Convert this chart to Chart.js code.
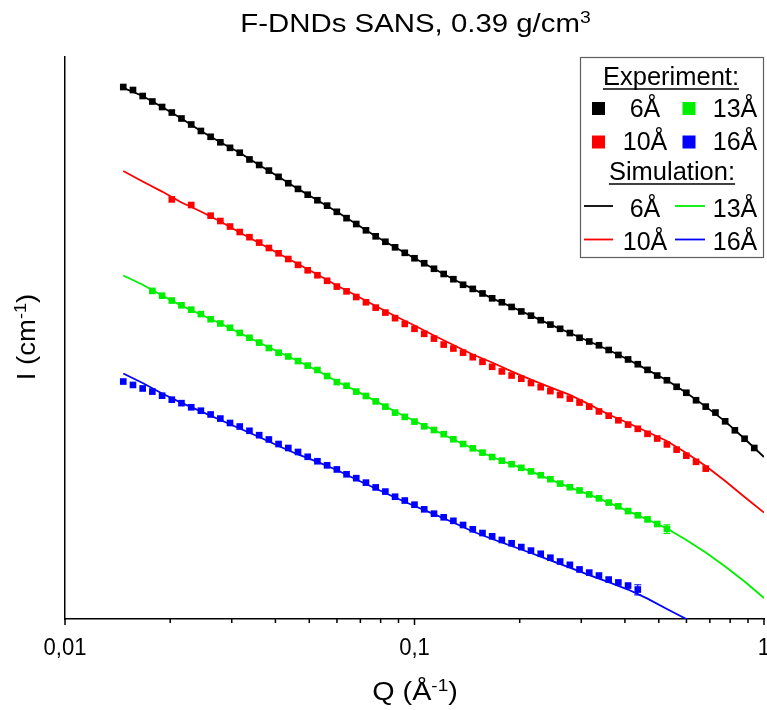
<!DOCTYPE html>
<html>
<head>
<meta charset="utf-8">
<script src="https://cdn.jsdelivr.net/npm/chart.js@4/dist/chart.umd.min.js"></script>
<style>
  html, body { margin: 0; padding: 0; background: #fff; }
  #wrap { width: 767px; height: 710px; position: relative; }
</style>
</head>
<body>
<div id="wrap"><canvas id="sans"></canvas></div>
<script>
// measured Q points (1/Å)
const qExp = [
  0.01468, 0.01565, 0.01668, 0.01778, 0.01896, 0.02021, 0.02154, 0.02297, 0.02448, 0.02610,
  0.02783, 0.02966, 0.03162, 0.03371, 0.03594, 0.03831, 0.04084, 0.04354, 0.04642, 0.04948,
  0.05275, 0.05623, 0.05995, 0.06391, 0.06813, 0.07263, 0.07743, 0.08254, 0.08799, 0.09380,
  0.1000, 0.1066, 0.1137, 0.1212, 0.1292, 0.1377, 0.1468, 0.1565, 0.1668, 0.1778,
  0.1896, 0.2021, 0.2154, 0.2297, 0.2448, 0.2610, 0.2783, 0.2966, 0.3162, 0.3371,
  0.3594, 0.3831, 0.4084, 0.4354, 0.4642, 0.4948, 0.5275, 0.5623, 0.5995, 0.6391,
  0.6813, 0.7263, 0.7743, 0.8254, 0.8799, 0.9380
];

// measured intensity, one value per qExp entry (null = no point)
const exp6 = [
  208.9, 195.0, 169.8, 149.6, 131.8, 116.1, 101.2, 88.1, 75.9, 66.4,
  58.5, 51.5, 46.0, 39.4, 34.7, 30.5, 26.4, 22.8, 20.0, 17.5,
  15.4, 13.6, 11.8, 10.2, 8.91, 7.71, 6.71, 5.92, 5.21, 4.59,
  4.05, 3.61, 3.18, 2.82, 2.50, 2.20, 2.00, 1.80, 1.61, 1.47,
  1.32, 1.19, 1.08, 0.973, 0.879, 0.798, 0.724, 0.649, 0.596, 0.546,
  0.490, 0.437, 0.394, 0.353, 0.31, 0.272, 0.244, 0.210, 0.183, 0.154,
  0.133, 0.116, 0.0948, 0.0771, 0.0635, 0.0513
];
const exp10 = [
  null, null, null, null, null, 15.7, null, 13.8, null, 10.8,
  9.55, 8.41, 7.41, 6.58, 5.81, 5.13, 4.54, 3.98, 3.48, 3.07,
  2.74, 2.41, 2.11, 1.89, 1.66, 1.47, 1.30, 1.16, 1.02, 0.893,
  0.798, 0.711, 0.637, 0.555, 0.507, 0.461, 0.415, 0.373, 0.333, 0.299,
  0.272, 0.253, 0.229, 0.208, 0.190, 0.174, 0.160, 0.146, 0.133, 0.119,
  0.108, 0.0971, 0.0879, 0.0798, 0.0711, 0.0638, 0.0557, 0.0494, 0.0430, 0.0373,
  0.0319, null, null, null, null, null
];
const exp13 = [
  null, null, null, 1.91, 1.71, 1.53, 1.37, 1.24, 1.12, 0.995,
  0.902, 0.817, 0.726, 0.649, 0.581, 0.513, 0.461, 0.422, 0.380, 0.342,
  0.309, 0.269, 0.234, 0.215, 0.188, 0.170, 0.150, 0.133, 0.116, 0.105,
  0.0942, 0.0845, 0.0776, 0.0705, 0.0627, 0.0562, 0.0509, 0.0461, 0.0417, 0.0383,
  0.0353, 0.0325, 0.0299, 0.0274, 0.0250, 0.0226, 0.0208, 0.0193, 0.0176, 0.0161,
  0.0146, 0.0134, 0.0120, 0.0109, 0.00991, 0.00891, 0.00796, null, null, null,
  null, null, null, null, null, null
];
const exp16 = [
  0.237, 0.219, 0.202, 0.188, 0.171, 0.156, 0.144, 0.131, 0.121, 0.111,
  0.101, 0.0912, 0.0841, 0.0762, 0.0689, 0.0624, 0.0562, 0.0513, 0.0468, 0.0419,
  0.0378, 0.0344, 0.0313, 0.0280, 0.0256, 0.0231, 0.0207, 0.0188, 0.0167, 0.0153,
  0.0139, 0.0125, 0.0113, 0.0104, 0.00959, 0.00871, 0.00789, 0.00724, 0.00671, 0.00617,
  0.00572, 0.00524, 0.00483, 0.00449, 0.00410, 0.00376, 0.00348, 0.00313, 0.00291, 0.00272,
  0.00248, 0.00232, 0.00216, 0.00197, null, null, null, null, null, null,
  null, null, null, null, null, null
];

// error of the last measured point (13Å, 16Å)
const err13Last = 0.0008;
const err16Last = 0.00023;

// simulated curves
const qSim = [
  0.01468, 0.01668, 0.01896, 0.02154, 0.02448, 0.02783, 0.03162, 0.03594, 0.04084, 0.04642,
  0.05275, 0.05995, 0.06813, 0.07743, 0.08799, 0.1000, 0.1137, 0.1292, 0.1468, 0.1668,
  0.1896, 0.2154, 0.2448, 0.2783, 0.3162, 0.3594, 0.4084, 0.4642, 0.5275, 0.5995,
  0.6813, 0.7743, 0.8799, 1.000
];
const sim6 = [
  205, 170, 132, 101, 76.0, 58.5, 46.0, 34.7, 26.4, 20.0,
  15.4, 11.8, 8.91, 6.71, 5.21, 4.05, 3.18, 2.50, 2.00, 1.61,
  1.32, 1.08, 0.879, 0.724, 0.596, 0.490, 0.394, 0.31, 0.244, 0.183,
  0.133, 0.0948, 0.0635, 0.0417
];
const sim10 = [
  30.2, 23.7, 18.8, 14.6, 11.9, 9.44, 7.33, 5.75, 4.52, 3.55,
  2.79, 2.16, 1.72, 1.35, 1.07, 0.861, 0.684, 0.550, 0.442, 0.367,
  0.299, 0.248, 0.207, 0.174, 0.140, 0.111, 0.0912, 0.0741, 0.0603, 0.0457,
  0.0339, 0.0240, 0.0166, 0.0116
];
const sim13 = [
  2.72, 2.20, 1.72, 1.36, 1.11, 0.902, 0.724, 0.582, 0.468, 0.380,
  0.305, 0.237, 0.191, 0.151, 0.119, 0.0955, 0.0776, 0.0624, 0.0507, 0.0417,
  0.0351, 0.0299, 0.0248, 0.0207, 0.0175, 0.0146, 0.0120, 0.00989, 0.00804, 0.00617,
  0.00462, 0.00335, 0.00237, 0.00162
];
const sim16 = [
  0.285, 0.229, 0.180, 0.145, 0.119, 0.0977, 0.0804, 0.0661, 0.0537, 0.0442,
  0.0372, 0.0309, 0.0248, 0.0202, 0.0164, 0.0135, 0.0112, 0.00923, 0.00750, 0.00631,
  0.00537, 0.00457, 0.00385, 0.00327, 0.00275, 0.00234, 0.00197, 0.00160, 0.00126, 0.00100,
  0.000776, 0.000603, 0.000457, 0.000347
];

const sizeLabels = ["6Å", "10Å", "13Å", "16Å"];
const colors = ["#000000", "#ff0000", "#00ee00", "#0000ff"];

// axes
const xTickValues = [0.01, 0.1, 1];
const xTickLabels = ["0,01", "0,1", "1"];
const yMin = 0.001;
const yMax = 416.9;

const FONT = '"Liberation Sans", Arial, sans-serif';

//pair Q with intensity, skipping empty cells
const toPoints = (qs, vals) =>
  qs.map((q, i) => (vals[i] == null ? null : { x: q, y: vals[i] })).filter(p => p);

const expSet = (vals, color) => ({
  data: toPoints(qExp, vals),
  showLine: false,
  pointStyle: "rect",
  pointRadius: 4.7,
  pointHoverRadius: 4.7,
  pointBorderWidth: 0,
  pointBackgroundColor: color,
  borderColor: color
});

const simSet = (vals, color) => ({
  data: toPoints(qSim, vals),
  showLine: true,
  pointRadius: 0,
  pointHoverRadius: 0,
  borderColor: color,
  borderWidth: 1.8,
  tension: 0
});

//text with optional superscript pieces, stretched horizontally by sx
function richText(ctx, parts, size, sx, align) {
  const supSize = size * 0.66;
  const widths = parts.map(([t, sup]) => {
    ctx.font = `${sup ? supSize : size}px ${FONT}`;
    return ctx.measureText(t).width;
  });
  const total = widths.reduce((a, b) => a + b, 0);
  ctx.save();
  ctx.scale(sx, 1);
  ctx.textAlign = "left";
  ctx.textBaseline = "alphabetic";
  let cx = align === "center" ? -total / 2 : 0;
  parts.forEach(([t, sup], i) => {
    ctx.font = `${sup ? supSize : size}px ${FONT}`;
    ctx.fillText(t, cx, sup ? -size * 0.36 : 0);
    cx += widths[i];
  });
  ctx.restore();
}

//ticks, titles, legend box and error bars
const decor = {
  id: "decor",
  afterDatasetsDraw(chart) {
    const { ctx, scales: { x, y } } = chart;
    const lastErr = [[exp13, err13Last, colors[2]], [exp16, err16Last, colors[3]]];
    ctx.save();
    lastErr.forEach(([vals, err, color]) => {
      let i = vals.length - 1;
      while (vals[i] == null) i--;
      const px = x.getPixelForValue(qExp[i]);
      const top = y.getPixelForValue(vals[i] + err);
      const bot = y.getPixelForValue(vals[i] - err);
      ctx.strokeStyle = color;
      ctx.lineWidth = 1.2;
      ctx.beginPath();
      ctx.moveTo(px, top); ctx.lineTo(px, bot);
      ctx.moveTo(px - 3.5, top); ctx.lineTo(px + 3.5, top);
      ctx.moveTo(px - 3.5, bot); ctx.lineTo(px + 3.5, bot);
      ctx.stroke();
    });
    ctx.restore();
  },
  afterDraw(chart) {
    const { ctx, chartArea, scales: { x } } = chart;
    const base = chartArea.bottom;
    ctx.save();
    ctx.fillStyle = "#000";
    ctx.strokeStyle = "#000";

    // major and minor ticks on the log axis
    ctx.lineWidth = 1.5;
    ctx.beginPath();
    xTickValues.forEach((dec, d) => {
      const px = x.getPixelForValue(dec);
      ctx.moveTo(px, base); ctx.lineTo(px, base + 6);
      if (d < xTickValues.length - 1) {
        for (let m = 2; m <= 9; m++) {
          const mx = x.getPixelForValue(dec * m);
          ctx.moveTo(mx, base); ctx.lineTo(mx, base + 4);
        }
      }
    });
    ctx.stroke();

    xTickValues.forEach((v, i) => {
      ctx.save();
      ctx.translate(x.getPixelForValue(v), 655);
      richText(ctx, [[xTickLabels[i], false]], 23, 0.96, "center");
      ctx.restore();
    });

    // titles
    ctx.save();
    ctx.translate(415.5, 32);
    richText(ctx, [["F-DNDs SANS, 0.39 g/cm", false], ["3", true]], 26, 1.13, "center");
    ctx.restore();

    ctx.save();
    ctx.translate(415, 700);
    richText(ctx, [["Q (Å", false], ["-1", true], [")", false]], 25, 1.15, "center");
    ctx.restore();

    ctx.save();
    ctx.translate(35, 337);
    ctx.rotate(-Math.PI / 2);
    richText(ctx, [["I (cm", false], ["-1", true], [")", false]], 25, 1.1, "center");
    ctx.restore();

    // legend box
    ctx.strokeStyle = "#5e5e5e";
    ctx.lineWidth = 1.2;
    ctx.strokeRect(580.5, 57.5, 183, 200);

    const heading = (text, cx, baseY) => {
      ctx.save();
      ctx.translate(cx, baseY);
      richText(ctx, [[text, false]], 25, 1.02, "center");
      ctx.restore();
      ctx.font = `25px ${FONT}`;
      const w = ctx.measureText(text).width * 1.02;
      ctx.strokeStyle = "#000";
      ctx.lineWidth = 1.7;
      ctx.beginPath();
      ctx.moveTo(cx - w / 2, baseY + 4); ctx.lineTo(cx + w / 2, baseY + 4);
      ctx.stroke();
    };
    heading("Experiment:", 671, 85);
    heading("Simulation:", 672, 180);

    const markX = [598.5, 689];
    const lineX = [[584, 613], [675, 705]];
    const textX = [645, 735];
    // column, row of each size label
    const slots = [[0, 0], [0, 1], [1, 0], [1, 1]];
    sizeLabels.forEach((lab, s) => {
      const [c, r] = slots[s];
      const expY = [108.5, 142][r];
      const simY = [206, 239.5][r];
      ctx.fillStyle = colors[s];
      ctx.fillRect(markX[c] - 6.5, expY - 6.5, 13, 13);
      ctx.strokeStyle = colors[s];
      ctx.lineWidth = 1.8;
      ctx.beginPath();
      ctx.moveTo(lineX[c][0], simY); ctx.lineTo(lineX[c][1], simY);
      ctx.stroke();
      ctx.fillStyle = "#000";
      [[expY, 116.7 - 108.5], [simY, 216.5 - 206]].forEach(([cy, off]) => {
        ctx.save();
        ctx.translate(textX[c], cy + off);
        richText(ctx, [[lab, false]], 25, 1, "center");
        ctx.restore();
      });
    });
    ctx.restore();
  }
};

const datasets = [
  expSet(exp6, colors[0]),
  expSet(exp10, colors[1]),
  expSet(exp13, colors[2]),
  expSet(exp16, colors[3]),
  simSet(sim6, colors[0]),
  simSet(sim10, colors[1]),
  simSet(sim13, colors[2]),
  simSet(sim16, colors[3])
];

new Chart(document.getElementById("sans"), {
  type: "scatter",
  data: { datasets },
  options: {
    responsive: true,
    maintainAspectRatio: false,
    animation: false,
    devicePixelRatio: 1,
    events: [],
    layout: { padding: { top: 57, right: 3, left: 0, bottom: 0 }, autoPadding: false },
    plugins: {
      legend: { display: false },
      title: { display: false },
      tooltip: { enabled: false }
    },
    scales: {
      x: {
        type: "logarithmic",
        min: 0.01,
        max: 1,
        bounds: "data",
        grid: { display: false },
        border: { display: true, color: "#000", width: 1.5 },
        ticks: { display: false },
        afterFit: s => { s.height = 91; }
      },
      y: {
        type: "logarithmic",
        min: yMin,
        max: yMax,
        bounds: "data",
        grid: { display: false },
        border: { display: true, color: "#000", width: 1.5 },
        ticks: { display: false },
        afterFit: s => { s.width = 65; }
      }
    }
  },
  plugins: [decor]
});
</script>
</body>
</html>
